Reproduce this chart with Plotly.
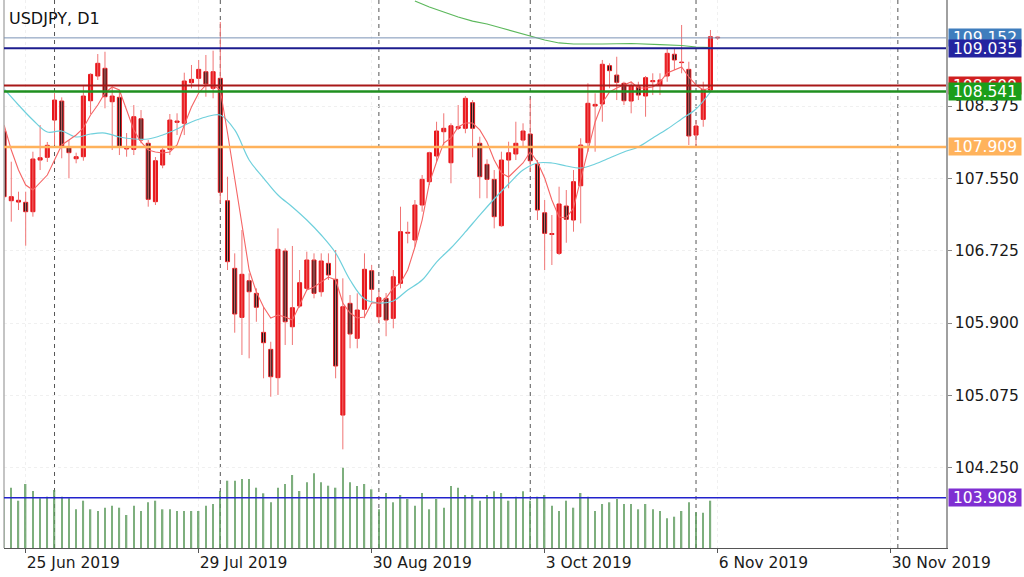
import plotly.graph_objects as go

# ---------------- data ----------------
# bar index 0 = 25 Jun 2019 (daily bars, -3 = 20 Jun 2019, 96 = 6 Nov 2019)
bar_index = list(range(-3, 97))

opens = [108.082, 107.295, 107.280, 107.277, 107.170, 107.759, 107.790, 108.215, 108.432, 107.904,
         107.774, 107.797, 108.435, 108.717, 108.805, 108.424, 108.474, 107.885, 107.881, 108.230,
         107.950, 107.284, 107.702, 107.881, 108.189, 108.178, 108.641, 108.691, 108.766, 108.577,
         108.691, 107.295, 106.524, 105.965, 106.383, 106.239, 105.794, 105.600, 105.277, 106.722,
         105.858, 106.094, 106.296, 106.619, 106.257, 106.581, 106.399, 104.851, 106.125, 105.726,
         106.057, 106.497, 105.972, 106.182, 105.954, 106.353, 106.925, 106.847, 107.246, 107.512,
         107.805, 108.082, 107.728, 108.121, 108.121, 108.413, 107.950, 107.710, 107.539, 107.010,
         107.759, 107.828, 107.987, 108.056, 107.714, 107.158, 106.910, 106.695, 107.235, 107.075,
         107.466, 107.957, 108.375, 108.398, 108.835, 108.728, 108.634, 108.432, 108.595, 108.489,
         108.652, 108.614, 108.717, 108.965, 108.870, 108.793, 108.044, 108.223, 108.557, 109.152]
highs = [108.124, 107.740, 107.398, 107.398, 107.854, 108.158, 107.965, 108.523, 108.474, 107.987,
         107.843, 108.603, 108.748, 108.968, 108.994, 108.595, 108.557, 108.067, 108.386, 108.329,
         107.987, 107.793, 107.911, 108.284, 108.292, 108.755, 108.843, 108.900, 108.957, 109.006,
         109.333, 107.569, 106.695, 106.961, 106.467, 106.296, 106.086, 105.687, 106.980, 106.752,
         106.779, 106.505, 106.714, 106.695, 106.695, 106.695, 106.733, 106.410, 106.220, 106.239,
         106.695, 106.562, 106.277, 106.243, 106.505, 107.227, 107.056, 107.303, 107.588, 107.854,
         108.196, 108.292, 108.178, 108.386, 108.489, 108.443, 108.025, 107.767, 107.645, 107.854,
         107.968, 108.196, 108.178, 108.463, 107.759, 107.303, 107.132, 107.455, 107.417, 107.645,
         108.007, 108.634, 108.520, 108.900, 108.862, 108.937, 108.652, 108.652, 108.652, 108.717,
         108.748, 108.748, 109.033, 109.033, 109.299, 108.880, 108.215, 108.652, 109.242, 109.165]
lows = [107.303, 107.056, 107.189, 106.782, 107.113, 107.645, 107.737, 107.930, 107.779, 107.550,
        107.722, 107.751, 108.284, 108.672, 108.349, 107.873, 107.816, 107.797, 107.816, 107.950,
        107.227, 107.246, 107.665, 107.816, 108.044, 108.044, 108.577, 108.557, 108.481, 108.463,
        107.265, 106.505, 105.790, 105.536, 105.498, 105.915, 105.270, 105.060, 105.080, 105.650,
        105.650, 106.075, 106.277, 106.182, 106.201, 106.391, 105.270, 104.460, 105.612, 105.612,
        105.954, 106.143, 105.900, 105.750, 105.840, 106.296, 106.809, 106.770, 107.170, 107.474,
        107.740, 107.930, 107.494, 108.101, 108.064, 107.790, 107.323, 107.323, 106.980, 106.999,
        107.437, 107.759, 107.911, 107.626, 107.075, 106.505, 106.562, 106.676, 106.816, 106.942,
        107.037, 107.854, 107.854, 108.196, 108.577, 108.443, 108.386, 108.292, 108.443, 108.253,
        108.500, 108.500, 108.652, 108.786, 108.748, 107.930, 107.911, 108.139, 108.538, 109.130]
closes = [107.341, 107.341, 107.300, 107.170, 107.771, 107.785, 107.927, 108.443, 107.919, 107.843,
          107.797, 108.489, 108.736, 108.862, 108.481, 108.489, 107.911, 107.904, 108.253, 107.987,
          107.311, 107.751, 107.873, 108.215, 108.204, 108.660, 108.679, 108.793, 108.626, 108.766,
          107.391, 106.600, 106.003, 106.456, 106.257, 106.080, 105.676, 105.288, 106.741, 105.915,
          106.075, 106.360, 106.619, 106.239, 106.608, 106.448, 105.410, 106.086, 105.775, 106.049,
          106.513, 106.285, 106.189, 105.935, 106.428, 106.942, 106.935, 107.246, 107.539, 107.842,
          108.090, 108.121, 108.150, 108.139, 108.463, 108.121, 107.569, 107.539, 107.113, 107.759,
          107.842, 107.950, 108.090, 107.751, 107.189, 106.923, 106.921, 107.258, 107.083, 107.512,
          107.930, 108.406, 108.394, 108.851, 108.778, 108.645, 108.435, 108.606, 108.500, 108.698,
          108.665, 108.672, 108.976, 108.900, 108.875, 108.033, 108.147, 108.565, 109.165, 109.160]

# tick volume (thousands), same bar order; the last bar has just opened
volumes = [58, 60.3, 47.3, 64, 57, 49.7, 51.3, 58, 51.3, 49.7,
           38.7, 47.3, 38.7, 37, 40.3, 42.3, 40.3, 33, 42.3, 37,
           45.7, 47.3, 38.7, 38.7, 37, 37, 37, 37, 42.3, 44,
           57, 67.3, 67.3, 69, 69, 60.3, 54.7, 45.7, 60.3, 64,
           73, 57, 65.7, 74.7, 65.7, 62.3, 60.3, 80.3, 65.7, 62,
           64, 58.7, 38.7, 55, 45.7, 53, 49, 42.3, 55, 38.7,
           49, 40.3, 62, 60.3, 53, 53, 47.3, 53, 56.7, 55,
           47.3, 51.3, 56.7, 47.3, 51.3, 53, 42.3, 37, 47.3, 40.3,
           55, 51.3, 37, 44, 45.7, 49, 44, 44, 38.7, 44,
           38.7, 37, 29.7, 31.3, 37, 45.7, 35.7, 35.3, 47.3, 0]

# fast moving average (red), bars -3 .. 95
fast_ma = [108.159, 107.874, 107.645, 107.474, 107.417, 107.497, 107.588, 107.760, 107.931, 107.988,
           108.045, 108.124, 108.273, 108.387, 108.524, 108.592, 108.558, 108.330, 108.102, 107.965,
           107.874, 107.851, 107.839, 107.851, 107.931, 108.159, 108.364, 108.524, 108.615, 108.615,
           108.558, 108.067, 107.531, 106.995, 106.505, 106.254, 106.083, 105.958, 105.992, 105.969,
           105.935, 106.106, 106.277, 106.311, 106.368, 106.425, 106.391, 106.129, 106.015, 105.958,
           105.969, 106.129, 106.129, 106.186, 106.300, 106.357, 106.505, 106.767, 107.075, 107.497,
           107.737, 107.953, 108.010, 108.136, 108.181, 108.181, 108.102, 107.965, 107.760, 107.611,
           107.566, 107.645, 107.725, 107.851, 107.737, 107.554, 107.303, 107.110, 107.098, 107.212,
           107.531, 107.874, 108.193, 108.409, 108.535, 108.581, 108.615, 108.649, 108.581, 108.581,
           108.592, 108.649, 108.752, 108.786, 108.820, 108.706, 108.615, 108.558, 108.581]

# slow moving average (cyan), read every other bar
slow_ma_idx = list(range(-3, 96, 2))
slow_ma = [108.569, 108.387, 108.216, 108.079, 108.090, 108.022, 108.056, 108.067, 108.022, 107.999,
           107.999, 108.045, 108.113, 108.193, 108.250, 108.273, 108.102, 107.760, 107.554, 107.360,
           107.224, 107.075, 106.904, 106.699, 106.391, 106.174, 106.129, 106.152, 106.277, 106.391,
           106.596, 106.756, 106.939, 107.132, 107.315, 107.486, 107.645, 107.725, 107.725, 107.691,
           107.668, 107.714, 107.782, 107.851, 107.908, 108.010, 108.113, 108.227, 108.341, 108.535]

# long moving average (green), visible part only
long_ma_idx = [54, 56, 58, 60, 62, 64, 66, 68, 70, 72, 74, 76, 80, 84, 88, 91, 93, 95]
long_ma = [109.572, 109.504, 109.447, 109.390, 109.344, 109.310, 109.265, 109.219, 109.173, 109.128,
           109.094, 109.082, 109.082, 109.088, 109.076, 109.065, 109.048, 109.042]

# horizontal price levels
level_prices = [109.152, 109.035, 108.609, 108.541, 107.909, 103.908]

tick_idx = [0, 24, 48, 72, 96, 120]
tick_labels = ["25 Jun 2019", "29 Jul 2019", "30 Aug 2019", "3 Oct 2019", "6 Nov 2019", "30 Nov 2019"]
month_start_idx = [4, 27, 49, 70, 93, 121]   # 1 Jul, 1 Aug, 2 Sep, 1 Oct, 1 Nov, 1 Dec
price_ticks = [104.250, 105.075, 105.900, 106.725, 107.550, 108.375]

# ---------------- styles ----------------
FONT = "DejaVu Sans"
UP_FILL = "#e8161b"
DOWN_FILL = "#1b1b1b"
EDGE = "#e8161b"
level_line_colors = ["#7b93b5", "#1c1c8e", "#a81818", "#1f8f1f", "#ffb25c", "#2222cc"]
level_line_widths = [1, 2, 2, 2.5, 2.5, 1.5]
level_box_colors = ["#3f7dbd", "#2424a0", "#d02020", "#1a9e1a", "#ffb35c", "#7f2fd2"]

fig = go.Figure()

# volume histogram (own hidden axis)
fig.add_trace(go.Bar(x=bar_index, y=volumes, yaxis="y2", width=0.2,
                     marker=dict(color="#5f9c5f", line=dict(width=0)), opacity=0.8,
                     hoverinfo="skip"))

# candle wicks
wx, wy = [], []
for i, h, l in zip(bar_index, highs, lows):
    wx += [i, i, None]
    wy += [l, h, None]
fig.add_trace(go.Scatter(x=wx, y=wy, mode="lines", line=dict(color="#f07474", width=1),
                         hoverinfo="skip"))

# candle bodies
body_base = [min(o, c) for o, c in zip(opens, closes)]
body_len = [max(abs(c - o), 0.006) for o, c in zip(opens, closes)]
body_fill = [UP_FILL if c >= o else DOWN_FILL for o, c in zip(opens, closes)]
fig.add_trace(go.Bar(x=bar_index, y=body_len, base=body_base, width=0.56,
                     marker=dict(color=body_fill, line=dict(color=EDGE, width=1)),
                     hoverinfo="skip"))

# moving averages
fig.add_trace(go.Scatter(x=long_ma_idx, y=long_ma, mode="lines",
                         line=dict(color="#5cb85c", width=1.2), hoverinfo="skip"))
fig.add_trace(go.Scatter(x=slow_ma_idx, y=slow_ma, mode="lines", line_shape="spline",
                         line=dict(color="#6fd0dc", width=1.2), hoverinfo="skip"))
fig.add_trace(go.Scatter(x=bar_index[:len(fast_ma)], y=fast_ma, mode="lines",
                         line=dict(color="#f56565", width=1.1), hoverinfo="skip"))

shapes = []
# month separators
for m in month_start_idx:
    shapes.append(dict(type="line", xref="x", yref="paper", x0=m, x1=m, y0=0, y1=1,
                       line=dict(color="#555555", width=1, dash="4px,4px"), layer="between"))
# left border
shapes.append(dict(type="line", xref="paper", yref="paper", x0=0, x1=0, y0=0, y1=1,
                   line=dict(color="#b0b0b0", width=1.5)))
# price levels
for p, c, w in zip(level_prices, level_line_colors, level_line_widths):
    shapes.append(dict(type="line", xref="paper", yref="y", x0=0, x1=1, y0=p, y1=p,
                       line=dict(color=c, width=w), layer="above"))

annotations = [dict(text="USDJPY, D1", xref="paper", yref="paper", x=0, y=1,
                    xanchor="left", yanchor="top", xshift=3, yshift=-7, showarrow=False,
                    font=dict(family=FONT, size=16, color="#111111"))]
for p, c in zip(level_prices, level_box_colors):
    annotations.append(dict(text=f"{p:.3f}", xref="paper", yref="y", x=1, y=p,
                            xanchor="left", yanchor="middle", xshift=2, showarrow=False,
                            bgcolor=c, width=72, height=17, borderpad=0,
                            font=dict(family=FONT, size=15.5, color="white")))

fig.update_layout(
    width=1024, height=577,
    margin=dict(l=4, r=78, t=0, b=29),
    paper_bgcolor="white", plot_bgcolor="white",
    showlegend=False, barmode="overlay",
    shapes=shapes, annotations=annotations,
    xaxis=dict(range=[-3.01, 127.68], tickmode="array", tickvals=tick_idx, ticktext=tick_labels,
               ticks="outside", ticklen=4, tickcolor="#555555", showline=True,
               linecolor="#555555", linewidth=1, showgrid=True, gridcolor="#f0f0f0",
               griddash="dot", zeroline=False, ticklabelposition="outside right",
               tickfont=dict(family=FONT, size=15.5, color="#1a1a1a")),
    yaxis=dict(range=[103.335, 109.584], side="right", tickmode="array", tickvals=price_ticks,
               ticktext=[f"{t:.3f}" for t in price_ticks], ticks="outside", ticklen=4,
               tickcolor="#888888", showline=True, linecolor="#a0a0a0", linewidth=1.5,
               showgrid=True, gridcolor="#f0f0f0", griddash="dot", zeroline=False,
               tickfont=dict(family=FONT, size=15.5, color="#1a1a1a")),
    yaxis2=dict(range=[0, 548], overlaying="y", visible=False, fixedrange=True),
)

fig.write_html("out.html", config={"displayModeBar": False},
               post_script="document.body.style.margin='0';")
